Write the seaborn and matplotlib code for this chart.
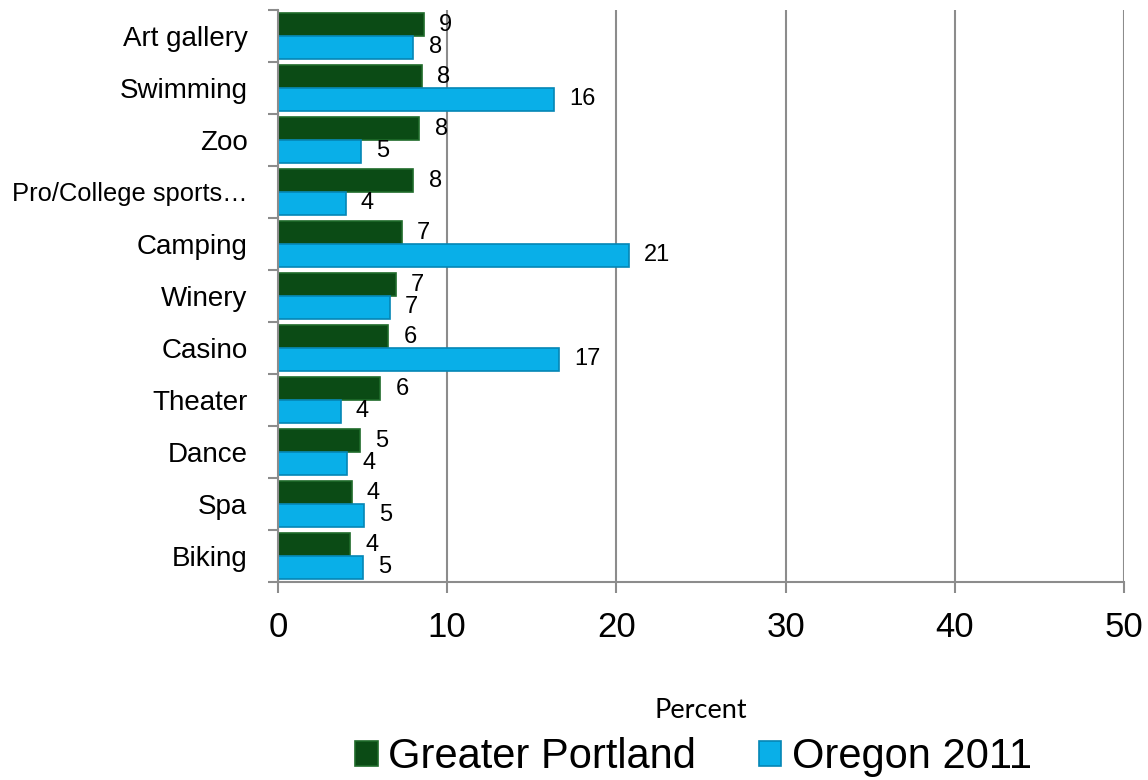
import matplotlib
matplotlib.use("Agg")
import matplotlib.pyplot as plt
import seaborn as sns
import pandas as pd
import numpy as np
from matplotlib.ticker import FixedLocator
from matplotlib.patches import Patch

categories = ["Art gallery", "Swimming", "Zoo", "Pro/College sports\u2026", "Camping",
              "Winery", "Casino", "Theater", "Dance", "Spa", "Biking"]
greater_portland = [8.6, 8.5, 8.35, 8.0, 7.3, 6.95, 6.5, 6.05, 4.85, 4.35, 4.25]
oregon_2011 = [8.0, 16.3, 4.9, 4.0, 20.75, 6.6, 16.6, 3.7, 4.1, 5.1, 5.0]
series_names = ["Greater Portland", "Oregon 2011"]
x_ticks = [0, 10, 20, 30, 40, 50]

df = pd.DataFrame({
    "Activity": categories * 2,
    "Percent": greater_portland + oregon_2011,
    "Series": [series_names[0]] * len(categories) + [series_names[1]] * len(categories),
})

sns.set_style("white")
plt.rcParams["font.family"] = ["Liberation Sans", "DejaVu Sans"]
plt.rcParams["text.color"] = "black"
plt.rcParams["xtick.color"] = "black"
plt.rcParams["ytick.color"] = "black"

fig = plt.figure(figsize=(11.48, 7.8), dpi=100)
ax = fig.add_axes([278 / 1148, 1 - 582 / 780, (1124 - 278) / 1148, (582 - 10) / 780])

colors = ["#0B4B15", "#09AFE8"]
sns.barplot(data=df, y="Activity", x="Percent", hue="Series", order=categories,
            hue_order=series_names, palette=colors, orient="h", width=0.88,
            saturation=1, ax=ax, legend=False)

edge_colors = ["#1f6b2a", "#0586b5"]
for cont, ec in zip(ax.containers, edge_colors):
    for bar in cont:
        bar.set_edgecolor(ec)
        bar.set_linewidth(1.2)
    ax.bar_label(cont, fmt="%.0f", padding=11, fontsize=17, color="black")

ax.set_xlim(0, 50)
ax.set_ylim(len(categories) - 0.5, -0.5)
ax.set_xticks(x_ticks)
ax.set_xticklabels([str(t) for t in x_ticks], fontsize=25)
ax.tick_params(axis="x", length=8, width=1.5, color="#8c8c8c", labelcolor="black",
               pad=13, direction="out", bottom=True)
ax.tick_params(axis="y", which="major", length=0, pad=22, labelsize=20, labelcolor="black")
ax.yaxis.set_minor_locator(FixedLocator(np.arange(-0.5, len(categories), 1.0)))
ax.tick_params(axis="y", which="minor", length=7, width=1.5, color="#8c8c8c", left=True, direction="out")
for lab in ax.get_yticklabels():
    if lab.get_text().startswith("Pro/"):
        lab.set_fontsize(18.4)

ax.grid(axis="x", color="#8c8c8c", linewidth=1.5)
ax.grid(axis="y", visible=False)
ax.set_axisbelow(True)
for s in ["top", "right"]:
    ax.spines[s].set_visible(False)
for s in ["left", "bottom"]:
    ax.spines[s].set_color("#8c8c8c")
    ax.spines[s].set_linewidth(1.5)

ax.set_ylabel("")
ax.set_xlabel("Percent", fontsize=19.5, family=["Lato", "DejaVu Sans"], va="top", color="black")
ax.xaxis.set_label_coords(0.5, -(698 - 582) / 572)

handles = [Patch(facecolor=c, edgecolor=e, linewidth=1.2) for c, e in zip(colors, edge_colors)]
fig.legend(handles, series_names, loc="center", bbox_to_anchor=(0.604, 0.029), ncol=2,
           frameon=False, fontsize=30, handlelength=0.55, handleheight=0.55,
           handletextpad=0.25, columnspacing=1.5, borderaxespad=0, labelcolor="black")

fig.savefig("out.png", dpi=100)
